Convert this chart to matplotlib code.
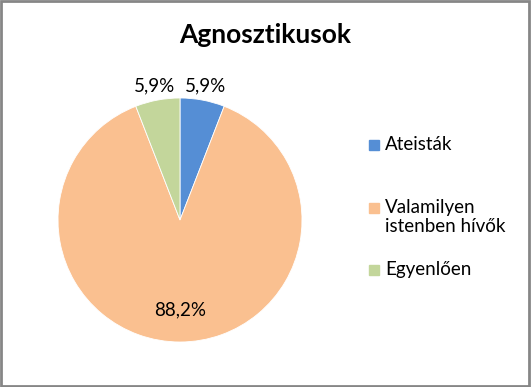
import numpy as np
import matplotlib.pyplot as plt
from matplotlib.patches import Rectangle

plt.rcParams['font.family'] = ['Lato', 'DejaVu Sans']

# adatok
kategoriak = ['Ateisták', 'Valamilyen\nistenben hívők', 'Egyenlően']
ertekek = [5.9, 88.2, 5.9]
szinek = ['#558ED5', '#FAC090', '#C3D69B']
cim = 'Agnosztikusok'

W, H = 531, 387
fig = plt.figure(figsize=(W / 100, H / 100), dpi=100)

# pite helye pixelben (kozeppont, sugar)
cx, cy, r = 180, 220, 122
ax = fig.add_axes([(cx - r) / W, (H - cy - r) / H, 2 * r / W, 2 * r / H])

wedges, texts, autotexts = ax.pie(
    ertekek, colors=szinek, startangle=90, counterclock=False,
    autopct=lambda p: f'{p:.1f}%'.replace('.', ','), pctdistance=1.12,
    wedgeprops=dict(edgecolor='white', linewidth=0.6),
    textprops=dict(fontsize=13.5, color='black'))
ax.set_xlim(-1, 1)
ax.set_ylim(-1, 1)
ax.set_aspect('equal')

# a nagy szelet cimkeje belul
w = wedges[1]
ang = np.deg2rad((w.theta1 + w.theta2) / 2)
autotexts[1].set_position((0.74 * np.cos(ang), 0.74 * np.sin(ang)))

fig.text(265 / W, 1 - 35 / H, cim, ha='center', va='center',
         fontsize=19, fontweight='bold')

# jelmagyarazat
leg_x = 369
leg_y = [145, 208, 270]
for name, col, y in zip(kategoriak, szinek, leg_y):
    fig.patches.append(Rectangle((leg_x / W, 1 - (y + 5) / H), 10 / W, 10 / H,
                                 transform=fig.transFigure, color=col))
    fig.text((leg_x + 16) / W, 1 - (y - 9) / H, name, ha='left', va='top',
             fontsize=13.5, linespacing=1.15)

fig.patches.append(Rectangle((0.002, 0.003), 0.995, 0.995, transform=fig.transFigure,
                             fill=False, edgecolor='#868686', linewidth=2))

fig.savefig('out.png', dpi=100)
